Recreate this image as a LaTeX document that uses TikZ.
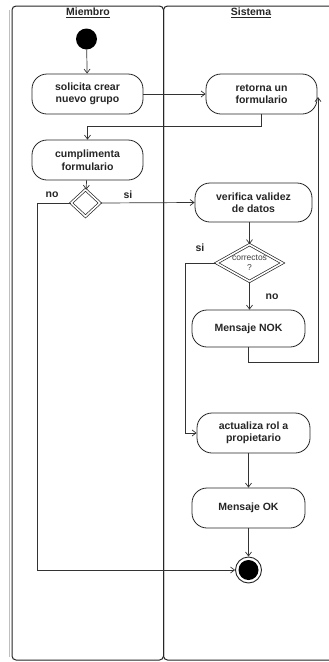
\documentclass[tikz,border=0pt]{standalone}
\usepackage{fontspec}
\setmainfont{Liberation Sans}
\usetikzlibrary{arrows.meta,shapes.geometric}
\begin{document}
\begin{tikzpicture}[x=1pt,y=-1pt,
  lane/.style={draw=black!85, line width=1pt, rounded corners=4pt},
  action/.style={draw=black!85, line width=0.8pt, rounded corners=15pt,
    minimum width=111pt, minimum height=40pt, inner sep=0pt, align=center,
    font=\fontsize{10.5}{12.5}\selectfont\bfseries, text=black!85},
  decision/.style={diamond, draw=black!85, double, double distance=1.6pt,
    line width=0.7pt, inner sep=0pt},
  flow/.style={draw=black!80, line width=0.7pt, -{Straight Barb[length=4pt,width=6pt]}},
  guard/.style={font=\fontsize{10.5}{12}\selectfont\bfseries, text=black!85},
  header/.style={font=\fontsize{10.5}{12}\selectfont\bfseries, text=black!85}
]
\useasboundingbox[fill=white] (0,0) rectangle (329,662);

% swimlanes
\draw[black!25, line width=1.5pt] (9.5,10) -- (9.5,657);
\draw[lane] (12,6) rectangle (163.5,660);
\draw[lane] (163.5,6) rectangle (345,660);
\node[header] (hmiembro) at (88,13) {\underline{Miembro}};
\node[header] (hsistema) at (251,13) {\underline{Sistema}};

% start and end
\node[circle, fill=black, minimum size=21pt, inner sep=0pt] (start) at (86.5,39) {};
\node[circle, draw=black!85, line width=0.9pt, minimum size=26pt, inner sep=0pt] (end) at (248.5,570) {};
\fill[black] (end.center) circle (10pt);

% actions
\node[action] (sol) at (87.5,94) {solicita crear\\nuevo grupo};
\node[action] (ret) at (261.5,94) {retorna un\\formulario};
\node[action] (cump) at (87.5,160) {cumplimenta\\formulario};
\node[action, minimum width=117pt, minimum height=39pt] (ver) at (253.5,202.5) {verifica validez\\de datos};
\node[action, minimum width=113pt, minimum height=37pt] (nok) at (248.5,328.5) {Mensaje NOK};
\node[action, minimum width=113pt] (act) at (253.5,433) {actualiza rol a\\propietario};
\node[action, minimum width=113pt] (ok) at (248.5,508) {Mensaje OK};

% decisions
\node[decision, minimum width=29pt, minimum height=27pt] (d1) at (85.5,203) {};
\node[decision, minimum width=66pt, minimum height=37pt] (chk) at (249.5,263) {};
\node[align=center, font=\fontsize{8.5}{10}\selectfont, text=black!75] (chktxt) at (chk.center) {correctos\\?};

% guards
\node[guard] (gno1) at (52,195) {no};
\node[guard] (gsi1) at (128,195) {si};
\node[guard] (gsi2) at (200,248) {si};
\node[guard] (gno2) at (272,297) {no};

% connector bends
\coordinate (nocorner) at (37,570);
\coordinate (sicorner) at (185,433);
\coordinate (loopc) at (318,362);
\coordinate (rettip) at (318,97);

% flows
\draw[flow] (start) -- (sol);
\draw[flow] (sol) -- (ret);
\draw[flow] (ret.south) -- ++(0,12) -| (cump.north);
\draw[flow] (cump) -- (d1);
\draw[flow] (d1.east) -- (ver.west);
\draw[flow] (d1.west) -| (nocorner) -- (end.west);
\draw[flow] (chk.north |- ver.south) -- (chk.north);
\draw[flow] (chk.south) -- (chk.south |- nok.north);
\draw[flow] (chk.west) -| (sicorner) -- (act.west);
\draw[flow] (nok.south) |- (loopc) -- (rettip);
\draw[flow] (ok.north |- act.south) -- (ok.north);
\draw[flow] (ok.south) -- (end.north);
\end{tikzpicture}
\end{document}
